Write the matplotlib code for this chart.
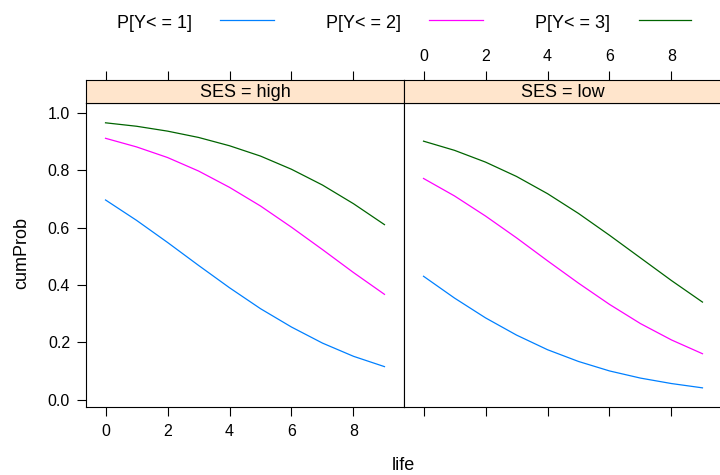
import matplotlib
matplotlib.use("Agg")
import matplotlib.pyplot as plt
from matplotlib.lines import Line2D

# ---- data ----
life = [0, 1, 2, 3, 4, 5, 6, 7, 8, 9]
panels = ["SES = high", "SES = low"]
series_labels = ["P[Y< = 1]", "P[Y< = 2]", "P[Y< = 3]"]

high_le1 = [0.696, 0.625, 0.548, 0.468, 0.390, 0.317, 0.253, 0.197, 0.151, 0.115]
high_le2 = [0.911, 0.881, 0.844, 0.797, 0.740, 0.675, 0.601, 0.523, 0.443, 0.367]
high_le3 = [0.965, 0.953, 0.936, 0.914, 0.885, 0.849, 0.803, 0.748, 0.683, 0.610]

low_le1 = [0.430, 0.354, 0.285, 0.225, 0.174, 0.133, 0.100, 0.075, 0.056, 0.041]
low_le2 = [0.771, 0.710, 0.640, 0.564, 0.484, 0.406, 0.332, 0.265, 0.208, 0.160]
low_le3 = [0.901, 0.869, 0.828, 0.778, 0.718, 0.649, 0.573, 0.494, 0.415, 0.340]

panel_data = [[high_le1, high_le2, high_le3], [low_le1, low_le2, low_le3]]

x_ticks = [0, 2, 4, 6, 8]
x_ticklabels = ["0", "2", "4", "6", "8"]
y_ticks = [0.0, 0.2, 0.4, 0.6, 0.8, 1.0]
y_ticklabels = ["0.0", "0.2", "0.4", "0.6", "0.8", "1.0"]

colors = ["#0080ff", "#ff00ff", "#006400"]

# ---- style ----
plt.rcParams['font.family'] = ['Liberation Sans', 'DejaVu Sans']
W, H = 720, 475
fig = plt.figure(figsize=(W / 100, H / 100), dpi=100)

def fx(px):
    return px / W

def fy(py):
    return 1 - py / H

left_px, mid_px, right_px = 86, 404, 722
panel_top, panel_bot = 103.3, 406.5
strip_top = 79.5

xlim = (-0.63, 9.63)
ylim = (-0.024, 1.033)
tick_len = 6.5
border = "black"

edges = [(left_px, mid_px), (mid_px, right_px)]
for i, (l, r) in enumerate(edges):
    ax = fig.add_axes([fx(l), fy(panel_bot), fx(r) - fx(l), fy(panel_top) - fy(panel_bot)])
    for j, vals in enumerate(panel_data[i]):
        ax.plot(life, vals, color=colors[j], lw=0.9)
    ax.set_xlim(*xlim)
    ax.set_ylim(*ylim)
    for s in ax.spines.values():
        s.set_color(border)
        s.set_linewidth(0.8)
    ax.set_xticks(x_ticks)
    ax.set_yticks(y_ticks)
    ax.tick_params(axis='both', direction='out', length=tick_len, width=0.8,
                   color=border, labelsize=11.5)
    ax.tick_params(axis='x', pad=6)
    ax.tick_params(axis='y', pad=5)
    if i == 0:
        ax.set_xticklabels(x_ticklabels)
        ax.set_yticklabels(y_ticklabels)
    else:
        ax.tick_params(axis='x', labelbottom=False)
        ax.tick_params(axis='y', left=False, labelleft=False, right=True)

    # strip
    sax = fig.add_axes([fx(l), fy(panel_top), fx(r) - fx(l), fy(strip_top) - fy(panel_top)])
    sax.set_xlim(*xlim)
    sax.set_ylim(0, 1)
    sax.set_facecolor("#ffe5cc")
    sax.set_yticks([])
    sax.set_xticks(x_ticks)
    sax.set_xticklabels(x_ticklabels)
    for s in sax.spines.values():
        s.set_color(border)
        s.set_linewidth(0.8)
    sax.tick_params(axis='x', direction='out', length=tick_len, width=0.8,
                    color=border, labelsize=11.5, pad=5, bottom=False, labelbottom=False,
                    top=True, labeltop=(i == 1))
    sax.text(0.5, 0.45, panels[i], transform=sax.transAxes, ha='center', va='center',
             fontsize=13)

# axis labels
fig.text(fx(403), fy(466), "life", ha='center', va='center', fontsize=13)
fig.text(fx(22), fy(253), "cumProb", ha='center', va='center', rotation=90, fontsize=13)

# legend (key on top)
text_x = [117, 326, 535]
line_x = [(220, 274), (429, 483), (639, 691)]
for k in range(3):
    fig.text(fx(text_x[k]), fy(28.5), series_labels[k], ha='left', va='baseline', fontsize=13)
    fig.add_artist(Line2D([fx(line_x[k][0]), fx(line_x[k][1])], [fy(20), fy(20)],
                          transform=fig.transFigure, color=colors[k], lw=0.9))

fig.savefig("out.png", dpi=100)
